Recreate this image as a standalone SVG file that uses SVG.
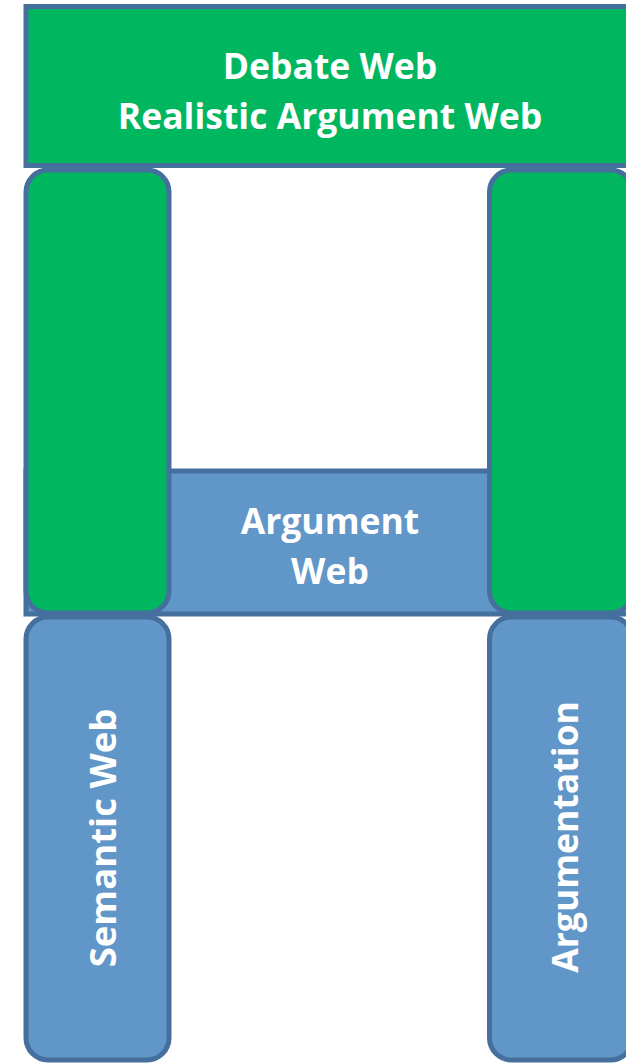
<svg xmlns="http://www.w3.org/2000/svg" width="626" height="1063" viewBox="0 0 626 1063">
<style>
.g{fill:#00B760;stroke:#45709E;stroke-width:5}
.b{fill:#6196C9;stroke:#45709E;stroke-width:5}
.t{fill:#fff;font-family:"Open Sans","Liberation Sans",sans-serif;font-weight:bold;font-size:35.5px;text-anchor:middle}
</style>
<rect width="626" height="1063" fill="#fff"/>
<g id="debate-web">
<rect class="g" x="26" y="6.5" width="640" height="159"/>
<text class="t" x="330" y="79">Debate Web</text>
<text class="t" x="330" y="129">Realistic Argument Web</text>
</g>
<g id="argument-web">
<rect class="b" x="26" y="471" width="640" height="143"/>
<text class="t" x="330" y="534">Argument</text>
<text class="t" x="330" y="584">Web</text>
</g>
<g id="left-green">
<rect class="g" x="26" y="170" width="143" height="443" rx="22"/>
</g>
<g id="right-green">
<rect class="g" x="489.5" y="170" width="143" height="443" rx="22"/>
</g>
<g id="semantic-web">
<rect class="b" x="26" y="617" width="143" height="443" rx="22"/>
<text class="t" style="font-size:36.5px" transform="translate(116,838) rotate(-90)">Semantic Web</text>
</g>
<g id="argumentation">
<rect class="b" x="489.5" y="617" width="143" height="443" rx="22"/>
<text class="t" transform="translate(578,837) rotate(-90)">Argumentation</text>
</g>
<g id="connectors"></g>
</svg>
